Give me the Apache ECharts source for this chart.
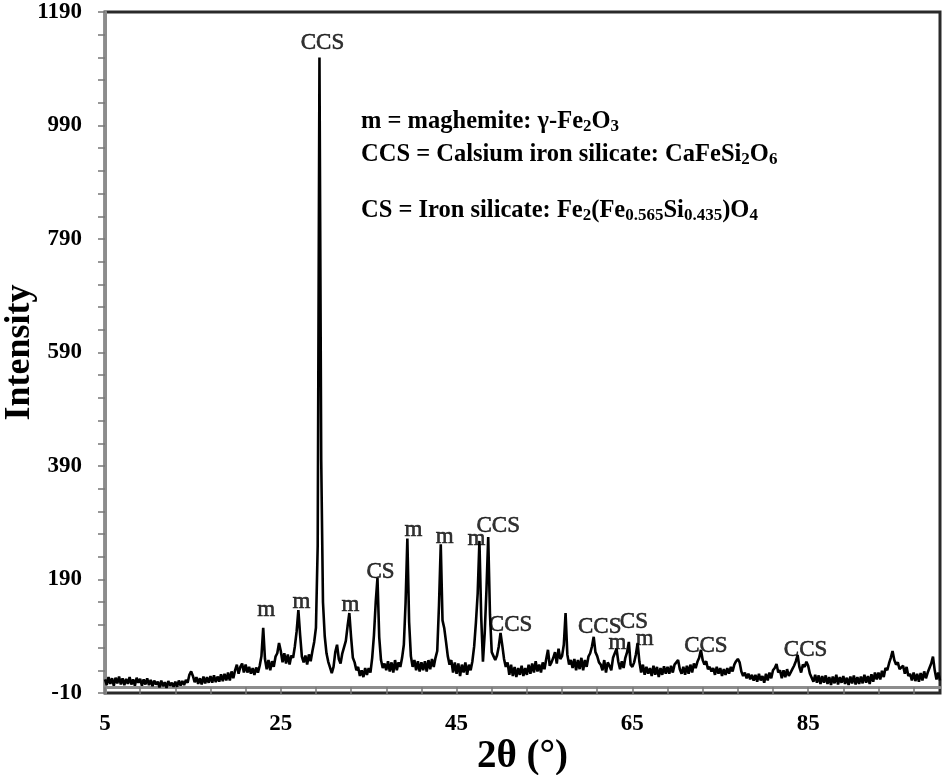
<!DOCTYPE html>
<html><head><meta charset="utf-8">
<script src="https://cdn.jsdelivr.net/npm/echarts@6/dist/echarts.min.js"></script>
<style>html,body{margin:0;padding:0;background:#fff}#c{width:944px;height:775px}</style>
</head><body><div id="c"></div>
<script>
// XRD scan: start angle, step (degrees 2θ) and counts
const SCAN_START = 5.0;
const SCAN_STEP = 0.2;

// 5.0 – 30.8
const counts5to31 = [
  14,4,18,6,16,3,17,7,19,5,
  16,4,15,6,18,5,14,3,17,8,
  15,3,14,5,16,4,13,2,12,5,
  10,0,12,2,9,-1,11,3,8,1,
  10,1,12,3,11,4,13,8,22,28,
  20,9,18,6,16,5,19,7,18,8,
  20,8,21,9,19,10,23,11,24,12,
  26,12,28,16,30,40,24,36,42,26,
  40,26,36,24,34,22,35,26,38,55,
  105,50,32,48,30,46,36,54,60,78,
  64,44,60,42,58,40,56,52,72,98,
  136,92,54,44,56,40,58,46,64,80,
  105,250,1110,400,150,90,60,45,35,25
];
// 31.0 – 56.8
const counts31to57 = [
  36,62,75,50,42,60,58,82,108,131,
  88,52,44,30,36,20,30,18,34,22,
  34,26,52,92,150,193,88,48,34,42,
  30,46,28,44,26,48,30,44,36,52,
  75,150,262,115,55,36,48,30,46,28,
  44,30,46,28,48,32,50,36,52,64,
  145,252,118,104,80,55,40,48,26,44,
  24,42,20,40,26,44,22,40,30,46,
  72,114,165,258,125,45,95,172,265,128,
  62,55,48,56,72,96,74,50,36,44,
  22,40,20,36,18,34,22,38,20,34,
  22,40,24,42,26,46,28,40,26,44,
  32,50,66,38,44,52,62,42,68,50
];
// 57.0 – 82.8
const counts57to83 = [
  55,75,131,58,40,48,34,50,30,48,
  32,52,30,48,36,54,60,72,89,62,
  55,44,40,30,48,26,44,38,30,52,
  52,68,45,32,46,34,52,62,80,40,
  36,44,58,78,45,26,40,22,36,24,
  34,20,38,22,36,18,34,22,37,24,
  36,24,38,26,40,42,48,32,24,36,
  22,38,24,40,26,42,34,45,52,66,
  48,40,46,32,36,28,34,22,36,24,
  34,20,32,22,34,24,36,28,40,46,
  50,44,28,20,26,16,24,14,22,12,
  22,10,24,12,20,8,24,12,26,16,
  30,34,41,26,30,16,30,18,32,20
];
// 83.0 – 100.0
const counts83to100 = [
  26,32,38,46,57,36,26,40,36,45,
  38,24,26,10,22,8,21,6,20,8,
  21,6,18,4,19,7,22,5,18,8,
  20,6,17,4,19,7,21,5,18,6,
  19,7,22,8,20,6,23,10,26,14,
  26,14,29,18,34,30,42,52,64,48,
  40,44,32,34,38,24,36,20,24,12,
  26,11,24,10,25,12,28,16,26,34,
  42,54,30,14,26,12
];

const xTickLabels = [5, 25, 45, 65, 85];
const yTickLabels = [-10, 190, 390, 590, 790, 990, 1190];

// Peak identifications
const peakAngles = [23.0, 27.0, 29.4, 32.8, 36.0, 39.4, 43.2, 47.6, 48.6, 50.0, 60.6, 63.2, 64.6, 65.6, 72.8, 83.8];
const peakPhases = ['m','m','CCS','m','CS','m','m','m','CCS','CCS','CCS','m','CS','m','CCS','CCS'];

// ---------- presentation ----------
const FONT = "'Liberation Serif','Times New Roman',serif";
// label offsets [dx, dy] (pixels) relative to the peak top
const labelOffsets = [[3,-15],[3,-5],[3,-13],[1,-5],[3,-5],[6,-6],[4,-4],[-3,1],[10,-10],[10,-7],[6,-9],[1,-3],[5,-19],[7,-1],[5,-3],[8,-4]];

const intensity = [].concat(counts5to31, counts31to57, counts57to83, counts83to100);
const scan = intensity.map((v, i) => [+(SCAN_START + i * SCAN_STEP).toFixed(1), v]);
function countAt(angle) { return intensity[Math.round((angle - SCAN_START) / SCAN_STEP)]; }

const xMinorTicks = []; for (let v = 5; v <= 97; v += 4) xMinorTicks.push(v);
const yMinorTicks = []; for (let v = -10; v <= 1190; v += 40) yMinorTicks.push(v);

const peakData = peakAngles.map((a, i) => {
  const isLower = peakPhases[i] === 'm';
  const off = labelOffsets[i];
  return {
    value: [a, countAt(a)],
    name: peakPhases[i],
    label: { offset: [off[0], off[1] - (isLower ? 3 : 1)] }
  };
});

const B = { fontSize: 24.5, fontWeight: 'bold', fontFamily: FONT, fill: '#000' };
const S = { fontSize: 17, fontWeight: 'bold', fontFamily: FONT, fill: '#000', padding: [9, 0, 0, 0] };
const legendLines = [
  '{b|m = maghemite: γ-Fe}{s|2}{b|O}{s|3}',
  '{b|CCS = Calsium iron silicate: CaFeSi}{s|2}{b|O}{s|6}',
  '{b|CS = Iron silicate: Fe}{s|2}{b|(Fe}{s|0.565}{b|Si}{s|0.435}{b|)O}{s|4}'
];
const legendY = [122, 155, 211];

const chart = echarts.init(document.getElementById('c'), null, { renderer: 'canvas' });
chart.setOption({
  animation: false,
  backgroundColor: '#fff',
  grid: { left: 105, right: 4, top: 12, bottom: 82, containLabel: false, outerBoundsMode: 'none',
          show: true, borderColor: '#2a2a2a', borderWidth: 3, backgroundColor: '#fff' },
  xAxis: {
    type: 'value', min: 5, max: 100,
    axisLine: { show: true, lineStyle: { color: '#8c8c8c', width: 3 } },
    axisTick: { show: true, customValues: xMinorTicks, length: 7, lineStyle: { color: '#777', width: 1.5 } },
    axisLabel: { customValues: xTickLabels, formatter: v => String(v), fontSize: 23, fontWeight: 'bold', fontFamily: FONT, color: '#000', margin: 20 },
    splitLine: { show: false },
    name: '2θ (°)', nameLocation: 'middle', nameGap: 44, nameMoveOverlap: false,
    nameTextStyle: { fontSize: 39, fontWeight: 'bold', fontFamily: FONT, color: '#000', verticalAlign: 'top' }
  },
  yAxis: {
    type: 'value', min: -10, max: 1190,
    axisLine: { show: true, lineStyle: { color: '#8c8c8c', width: 3 } },
    axisTick: { show: true, customValues: yMinorTicks, length: 7, lineStyle: { color: '#777', width: 1.5 } },
    axisLabel: { customValues: yTickLabels, formatter: v => String(v), fontSize: 23, fontWeight: 'bold', fontFamily: FONT, color: '#000', margin: 23 },
    splitLine: { show: false },
    name: 'Intensity', nameLocation: 'middle', nameRotate: 90, nameGap: 67, nameMoveOverlap: false,
    nameTextStyle: { fontSize: 36, fontWeight: 'bold', fontFamily: FONT, color: '#000' }
  },
  series: [
    {
      type: 'line', data: scan, showSymbol: false, symbol: 'none',
      lineStyle: { color: '#000', width: 2.6 }, z: 3
    },
    {
      type: 'scatter', data: peakData, symbolSize: 0, silent: true, z: 4,
      label: {
        show: true, position: 'inside', formatter: p => p.name,
        fontSize: 23, fontFamily: FONT, color: '#000',
        textBorderColor: '#000', textBorderWidth: 0.6
      }
    }
  ],
  graphic: legendLines.map((t, k) => ({
    type: 'text', x: 361, y: legendY[k], silent: true,
    style: { text: t, rich: { b: B, s: S }, align: 'left', verticalAlign: 'middle' }
  }))
});
</script>
</body></html>
